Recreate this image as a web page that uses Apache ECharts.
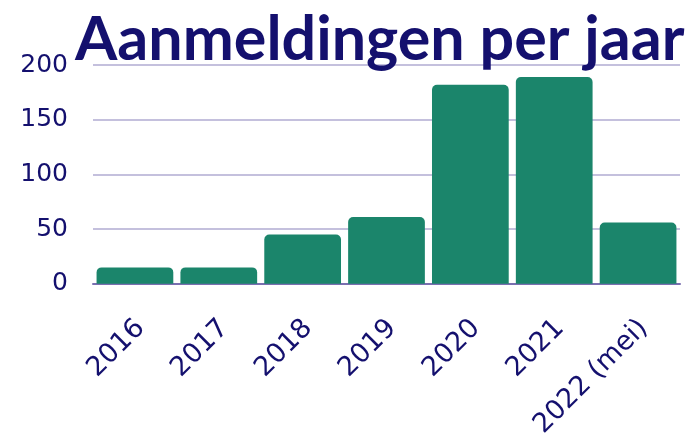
<!DOCTYPE html>
<html>
<head>
<meta charset="utf-8">
<script src="https://cdn.jsdelivr.net/npm/echarts@6/dist/echarts.min.js"></script>
<style>
  html, body { margin: 0; padding: 0; background: #ffffff; }
  #chart { width: 691px; height: 441px; }
</style>
</head>
<body>
<div id="chart"></div>
<script>
// data
const years = ['2016', '2017', '2018', '2019', '2020', '2021', '2022 (mei)'];
const registrations = [15, 15, 45, 61, 182, 189, 56];
const yTicks = [0, 50, 100, 150, 200];

const navy = '#14106e';
const labelFont = 'DejaVu Sans';
const chart = echarts.init(document.getElementById('chart'));

chart.setOption({
  animation: false,
  backgroundColor: '#ffffff',
  title: {
    text: 'Aanmeldingen per jaar',
    left: 70,
    top: 5,
    textStyle: {
      fontFamily: 'Lato',
      fontWeight: 'bold',
      fontSize: 61,
      color: navy
    }
  },
  grid: {
    left: 93,
    right: 11,
    top: 65,
    bottom: 156
  },
  xAxis: {
    type: 'category',
    data: years,
    axisTick: { show: false },
    axisLine: { lineStyle: { color: '#7a6fb0', width: 2 } },
    axisLabel: {
      rotate: 45,
      margin: 46,
      padding: [0, -8, 0, 0],
      color: navy,
      fontFamily: labelFont,
      fontSize: 27
    }
  },
  yAxis: {
    type: 'value',
    min: yTicks[0],
    max: yTicks[yTicks.length - 1],
    interval: 50,
    axisLine: { show: false },
    axisTick: { show: false },
    splitLine: { lineStyle: { color: '#c4c0dd', width: 2 } },
    axisLabel: {
      margin: 25,
      color: navy,
      fontFamily: labelFont,
      fontSize: 25
    }
  },
  series: [{
    type: 'bar',
    data: registrations,
    barCategoryGap: '8.5%',
    itemStyle: {
      color: '#1b856b',
      borderRadius: [5, 5, 0, 0]
    }
  }]
});
</script>
</body>
</html>
